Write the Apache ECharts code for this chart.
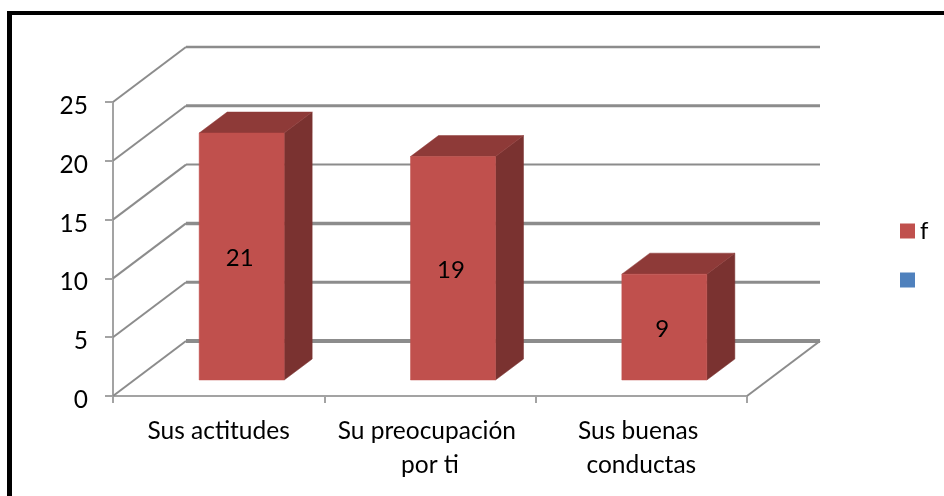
<!DOCTYPE html>
<html><head><meta charset="utf-8">
<style>html,body{margin:0;padding:0;background:#fff}#c{width:944px;height:496px}</style>
<script src="https://cdn.jsdelivr.net/npm/echarts@6/dist/echarts.min.js"></script>
</head><body><div id="c"></div>
<script>
const categories = ['Sus actitudes', 'Su preocupación por ti', 'Sus buenas conductas'];
const valuesF = [21, 19, 9];
const yTicks = [0, 5, 10, 15, 20, 25];
const gridWidths = [4, 3, 3.5, 2, 3, 2.5];
const FONT = 'Lato';
const chart = echarts.init(document.getElementById('c'), null, {renderer: 'canvas'});
const DX = 73, DY = -55;          // depth of the floor
const BDX = 28, BDY = -21;        // depth of a bar
const SX = 23, SY = -16;          // bar offset from the front of the floor
const HALF = 42.5;

function poly(points, fill) {
  return {type: 'polygon', shape: {points}, style: {fill, stroke: fill, lineWidth: 0.5}};
}
chart.setOption({
  animation: false,
  backgroundColor: '#fff',
  textStyle: {fontFamily: FONT},
  grid: {left: 113, right: 197, top: 102, bottom: 100},
  legend: {
    data: ['f', ' '], orient: 'vertical', left: 895, top: 214,
    itemWidth: 15, itemHeight: 15, itemGap: 25, icon: 'rect', selectedMode: false,
    textStyle: {fontFamily: FONT, fontSize: 24, color: '#000', padding: [-4, 0, 0, 0]}
  },
  xAxis: {
    type: 'category', data: categories,
    axisLine: {lineStyle: {color: '#a3a3a3', width: 2}},
    axisTick: {show: true, length: 7, lineStyle: {color: '#a3a3a3', width: 2}},
    axisLabel: {color: '#000', fontFamily: FONT, fontSize: 24.5, lineHeight: 34, margin: 18,
      interval: 0, width: 205, overflow: 'break'}
  },
  yAxis: {
    type: 'value', min: 0, max: 25, interval: 5,
    splitLine: {show: false},
    axisLine: {show: true, lineStyle: {color: '#a3a3a3', width: 2}},
    axisTick: {show: true, length: 8, lineStyle: {color: '#a3a3a3', width: 2}},
    axisLabel: {color: '#000', fontFamily: FONT, fontSize: 24.5, margin: 25, verticalAlign: 'top', lineHeight: 8}
  },
  graphic: [
    {type: 'rect', shape: {x: 7, y: 11, width: 937, height: 4}, style: {fill: '#000'}},
    {type: 'rect', shape: {x: 7, y: 11, width: 5, height: 485}, style: {fill: '#000'}}
  ],
  series: [
    {
      type: 'custom', name: 'walls', silent: true, z: 1, clip: false,
      data: yTicks.map((t, i) => [t, gridWidths[i]]),
      encode: {y: 0},
      renderItem(params, api) {
        const t = api.value(0), w = api.value(1);
        const p = api.coord([0, t]);
        const size = api.size([1, 0]);
        const y = p[1];
        const x0 = p[0] - size[0] / 2;
        const x1 = x0 + size[0] * categories.length;
        const children = [
          {type: 'polyline', shape: {points: [[x0, y], [x0 + DX, y + DY]]},
            style: {stroke: '#8c8c8c', lineWidth: 2, fill: 'none'}},
          {type: 'polyline', shape: {points: [[x0 + DX, y + DY], [x1 + DX, y + DY]]},
            style: {stroke: '#8c8c8c', lineWidth: w, fill: 'none'}}
        ];
        if (t === 0) children.push({type: 'polyline', shape: {points: [[x1, y], [x1 + DX, y + DY]]},
            style: {stroke: '#8c8c8c', lineWidth: 2, fill: 'none'}});
        return {type: 'group', children};
      }
    },
    {
      type: 'custom', name: 'f', z: 3, clip: false,
      itemStyle: {color: '#C0504D'},
      data: valuesF.map((v, i) => [i, v]),
      encode: {x: 0, y: 1},
      renderItem(params, api) {
        const i = api.value(0), v = api.value(1);
        const top = api.coord([i, v]), bot = api.coord([i, 0]);
        const cx = top[0] + SX;
        const l = cx - HALF, r = cx + HALF;
        const t = top[1] + SY, b = bot[1] + SY;
        return {type: 'group', children: [
          poly([[r, t], [r + BDX, t + BDY], [r + BDX, b + BDY], [r, b]], '#7A3230'),
          poly([[l, t], [l + BDX, t + BDY], [r + BDX, t + BDY], [r, t]], '#8E3A38'),
          poly([[l, t], [r, t], [r, b], [l, b]], '#C0504D'),
          {type: 'text', z2: 10, style: {text: String(v), x: cx - 2, y: (t + b) / 2 + 2, align: 'center',
            verticalAlign: 'middle', fill: '#000', font: '24px ' + FONT}}
        ]};
      }
    },
    {type: 'custom', name: ' ', itemStyle: {color: '#4F81BD'}, data: [], renderItem() { return null; }}
  ]
});
</script></body></html>
